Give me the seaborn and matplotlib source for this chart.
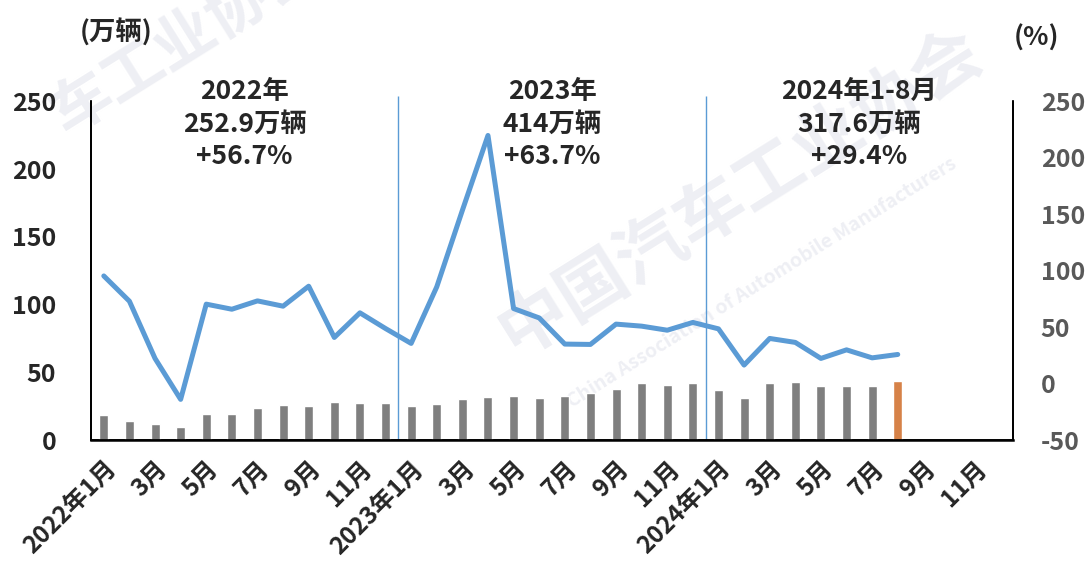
import pandas as pd
import matplotlib.pyplot as plt
import seaborn as sns

# 月份 (2022-01 ~ 2024-12)
months = [f"{y}-{m:02d}" for y in (2022, 2023, 2024) for m in range(1, 13)]
tick_labels = ["2022年1月", "3月", "5月", "7月", "9月", "11月",
               "2023年1月", "3月", "5月", "7月", "9月", "11月",
               "2024年1月", "3月", "5月", "7月", "9月", "11月"]

# 出口量 (万辆)
volume = [18.4, 14.0, 11.8, 9.6, 19.1, 19.1, 23.5, 25.7, 25.0, 27.9, 27.2, 27.2,
          25.0, 26.5, 30.1, 31.6, 32.4, 30.9, 32.4, 34.6, 37.5, 41.9, 40.4, 41.9,
          36.8, 30.9, 41.9, 42.6, 39.7, 39.7, 39.7, 43.4]
# 同比增速 (%)
growth = [95.4, 73.0, 22.3, -14.0, 70.4, 65.9, 73.3, 68.6, 86.3, 40.9, 62.7, 48.8,
          35.6, 85.7, 153.5, 219.9, 66.5, 58.2, 35.0, 34.7, 52.7, 50.9, 47.3, 54.2,
          48.5, 16.4, 40.0, 36.5, 22.3, 29.9, 22.8, 25.8]

year_labels = ["2022年\n252.9万辆\n+56.7%", "2023年\n414万辆\n+63.7%", "2024年1-8月\n317.6万辆\n+29.4%"]

df = pd.DataFrame({"月份": months[:len(volume)], "出口量": volume})
df["颜色"] = ["历史"] * (len(volume) - 1) + ["当月"]
line_df = pd.DataFrame({"序号": range(len(growth)), "增速": growth})

sns.set_style("white")
plt.rcParams["font.family"] = ["Noto Sans CJK SC", "DejaVu Sans"]
plt.rcParams["axes.unicode_minus"] = False
W = "heavy"

fig = plt.figure(figsize=(10.89, 5.65), dpi=100)
ax = fig.add_axes([91 / 1089, 1 - 440 / 565, (1013 - 91) / 1089, (440 - 101.5) / 565])

# 水印 (放在最底层)
wm = dict(color="#EEEFF4", fontweight="bold", zorder=0, ha="center", va="center",
          transform=fig.transFigure, clip_on=False)
ax.text(0.68, 0.66, "中国汽车工业协会", rotation=32, fontsize=50, **wm)
ax.text(0.70, 0.50, "China Association of Automobile Manufacturers", rotation=32,
        fontsize=14, **wm)
ax.text(0.17, 0.93, "车工业协会", rotation=32, fontsize=44, **wm)

# 柱状图: 出口量
sns.barplot(data=df, x="月份", y="出口量", hue="颜色", order=months,
            palette={"历史": "#7F7F7F", "当月": "#ED7D31"},
            width=0.35, legend=False, ax=ax, zorder=3)
ax.set_xlim(-0.5, len(months) - 0.5)
ax.set_ylim(0, 250)
ax.set_yticks(range(0, 251, 50))
ax.set_xticks(range(0, len(months), 2))
ax.set_xticklabels(tick_labels, rotation=45, ha="right", rotation_mode="anchor",
                   fontsize=17.5, fontweight=W)
ax.tick_params(axis="both", length=0)
ax.tick_params(axis="x", pad=12)
ax.tick_params(axis="y", labelsize=18, pad=25)
for lab in ax.get_yticklabels():
    lab.set_fontweight(W)
ax.set_xlabel("")
ax.set_ylabel("")

# 年度分隔线
for xv in (11.5, 23.5):
    ax.vlines(xv, 0, 254, color="#5B9BD5", linewidth=1, clip_on=False, zorder=2)

# 折线图: 同比增速
ax2 = ax.twinx()
sns.lineplot(data=line_df, x="序号", y="增速", color="#5B9BD5", linewidth=3.6, ax=ax2, zorder=4)
ax2.set_ylim(-50, 250)
ax2.set_yticks(range(-50, 251, 50))
ax2.tick_params(axis="y", length=0, labelsize=18, labelcolor="#595959", pad=20)
for lab in ax2.get_yticklabels():
    lab.set_fontweight(W)
ax2.set_ylabel("")
ax2.set_xlabel("")

for a in (ax, ax2):
    for side in ("left", "right", "bottom"):
        a.spines[side].set_visible(True)
        a.spines[side].set_color("black")
        a.spines[side].set_linewidth(1.3)
    a.spines["top"].set_visible(False)
ax.spines["bottom"].set_linewidth(1.8)

# 年度汇总标注
for xc, txt in zip((5.5, 17.5, 29.5), year_labels):
    ax2.text(xc, 230, txt, ha="center", va="center", fontsize=19, fontweight=W,
             linespacing=1.25, zorder=5)

fig.text(116 / 1089, 1 - 33 / 565, "(万辆)", ha="center", va="center",
         fontsize=19, fontweight=W)
fig.text(1036 / 1089, 1 - 38 / 565, "(%)", ha="center", va="center",
         fontsize=19, fontweight=W)

fig.savefig("out.png", dpi=100)
